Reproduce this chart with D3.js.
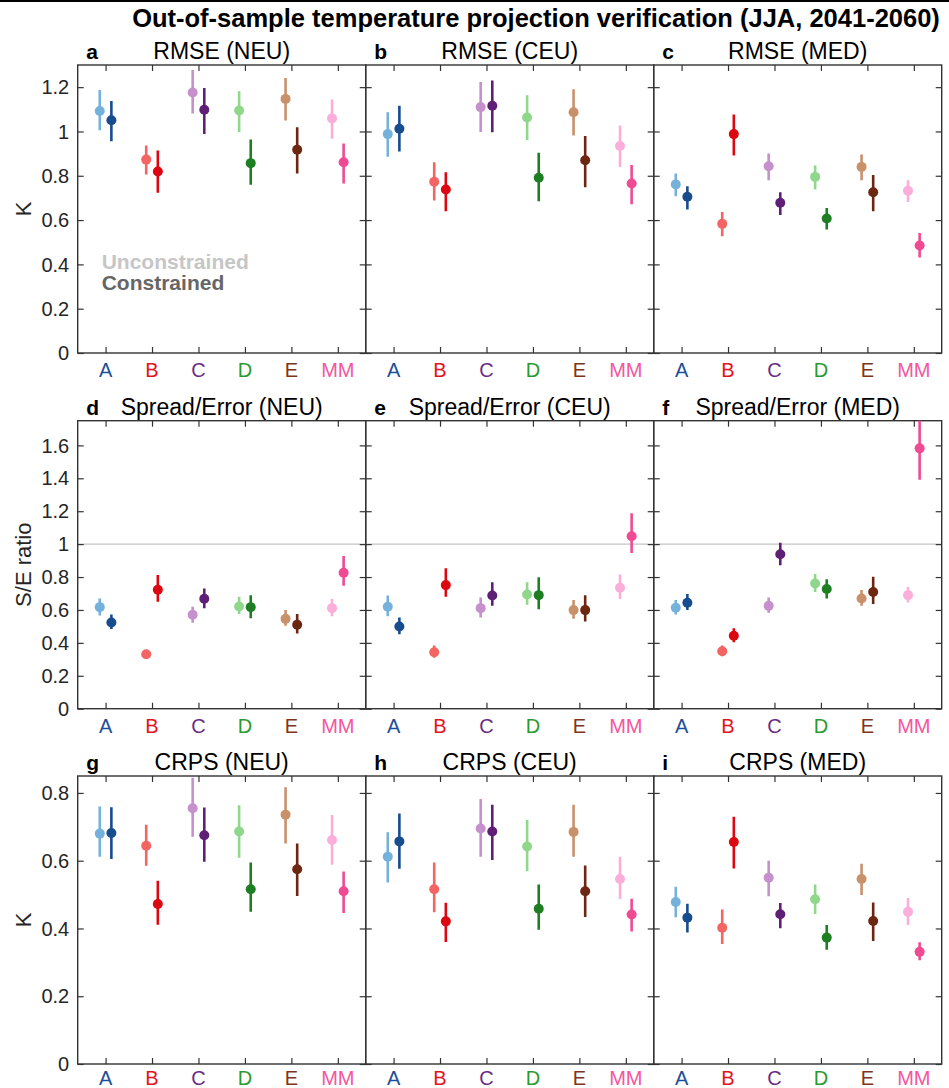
<!DOCTYPE html>
<html>
<head>
<meta charset="utf-8">
<script src="https://cdn.jsdelivr.net/npm/d3@7"></script>
<style>
  body { margin: 0; background: #fff; }
  text { font-family: "Liberation Sans", Arial, Helvetica, sans-serif; }
</style>
</head>
<body>
<script>
// categories & colours
var categories = ['A', 'B', 'C', 'D', 'E', 'MM']
var labelColours = ['#1f4f98', '#e3131b', '#6a2d86', '#2a9a2f', '#7c3518', '#f2579f']
var uncColours = ['#74b2db', '#f26563', '#c590cb', '#8fd78b', '#c99169', '#fcaedb']
var conColours = ['#174c8e', '#dc0710', '#5f1f76', '#1d7f22', '#6d2710', '#ef4a93']

// values: [mid, low, high] per category
var rmseNEU_unc = [[1.092, 1.006, 1.187], [0.873, 0.806, 0.937], [1.176, 1.081, 1.277], [1.095, 0.998, 1.182], [1.147, 1.049, 1.241], [1.059, 0.967, 1.144]]
var rmseNEU_con = [[1.051, 0.956, 1.137], [0.819, 0.723, 0.914], [1.098, 0.989, 1.196], [0.857, 0.759, 0.964], [0.918, 0.810, 1.019], [0.861, 0.765, 0.946]]
var rmseCEU_unc = [[0.988, 0.886, 1.087], [0.773, 0.688, 0.861], [1.110, 0.998, 1.223], [1.063, 0.961, 1.164], [1.087, 0.982, 1.190], [0.934, 0.840, 1.027]]
var rmseCEU_con = [[1.012, 0.910, 1.116], [0.738, 0.640, 0.816], [1.116, 0.997, 1.230], [0.791, 0.685, 0.904], [0.870, 0.748, 0.979], [0.765, 0.672, 0.849]]
var rmseMED_unc = [[0.761, 0.708, 0.810], [0.583, 0.527, 0.636], [0.843, 0.780, 0.901], [0.795, 0.738, 0.846], [0.840, 0.780, 0.896], [0.732, 0.682, 0.780]]
var rmseMED_con = [[0.705, 0.648, 0.753], [0.988, 0.891, 1.077], [0.678, 0.623, 0.726], [0.607, 0.557, 0.654], [0.726, 0.640, 0.804], [0.485, 0.431, 0.542]]

var seNEU_unc = [[0.617, 0.566, 0.670], [0.331, 0.320, 0.342], [0.571, 0.522, 0.619], [0.621, 0.575, 0.680], [0.546, 0.504, 0.599], [0.611, 0.562, 0.668]]
var seNEU_con = [[0.524, 0.485, 0.573], [0.723, 0.650, 0.812], [0.668, 0.611, 0.731], [0.617, 0.550, 0.690], [0.510, 0.457, 0.575], [0.826, 0.747, 0.928]]
var seCEU_unc = [[0.619, 0.562, 0.688], [0.343, 0.309, 0.384], [0.611, 0.554, 0.676], [0.694, 0.631, 0.768], [0.599, 0.546, 0.660], [0.735, 0.666, 0.816]]
var seCEU_con = [[0.499, 0.453, 0.554], [0.751, 0.680, 0.853], [0.688, 0.625, 0.768], [0.690, 0.605, 0.798], [0.599, 0.530, 0.690], [1.048, 0.946, 1.188]]
var seMED_unc = [[0.613, 0.573, 0.660], [0.349, 0.319, 0.384], [0.625, 0.583, 0.676], [0.761, 0.709, 0.818], [0.670, 0.625, 0.721], [0.690, 0.646, 0.739]]
var seMED_con = [[0.644, 0.599, 0.697], [0.443, 0.404, 0.489], [0.938, 0.871, 1.009], [0.727, 0.670, 0.786], [0.709, 0.636, 0.802], [1.582, 1.391, 1.770]]

var crpsNEU_unc = [[0.680, 0.612, 0.760], [0.644, 0.585, 0.706], [0.755, 0.671, 0.845], [0.686, 0.609, 0.764], [0.736, 0.651, 0.817], [0.661, 0.588, 0.735]]
var crpsNEU_con = [[0.682, 0.605, 0.758], [0.472, 0.411, 0.541], [0.675, 0.597, 0.757], [0.516, 0.449, 0.595], [0.575, 0.496, 0.651], [0.510, 0.446, 0.568]]
var crpsCEU_unc = [[0.612, 0.536, 0.684], [0.516, 0.448, 0.595], [0.695, 0.612, 0.782], [0.642, 0.569, 0.720], [0.685, 0.612, 0.765], [0.546, 0.487, 0.612]]
var crpsCEU_con = [[0.657, 0.576, 0.739], [0.421, 0.360, 0.476], [0.686, 0.602, 0.765], [0.458, 0.396, 0.530], [0.510, 0.434, 0.586], [0.441, 0.391, 0.488]]
var crpsMED_unc = [[0.478, 0.433, 0.523], [0.402, 0.354, 0.456], [0.550, 0.495, 0.600], [0.486, 0.443, 0.530], [0.546, 0.499, 0.591], [0.449, 0.410, 0.490]]
var crpsMED_con = [[0.432, 0.388, 0.473], [0.655, 0.577, 0.730], [0.442, 0.401, 0.475], [0.373, 0.337, 0.410], [0.422, 0.363, 0.477], [0.331, 0.306, 0.359]]

// rows: y domain, ticks, label
var rowDomains = [[0, 1.3], [0, 1.75], [0, 0.85]]
var rowTicks = [[0, 0.2, 0.4, 0.6, 0.8, 1, 1.2], [0, 0.2, 0.4, 0.6, 0.8, 1, 1.2, 1.4, 1.6], [0, 0.2, 0.4, 0.6, 0.8]]
var rowLabels = ['K', 'S/E ratio', 'K']
var rowTops = [65, 420.7, 776]

var panels = [
    { id: 'a', title: 'RMSE (NEU)', row: 0, col: 0, unc: rmseNEU_unc, con: rmseNEU_con },
    { id: 'b', title: 'RMSE (CEU)', row: 0, col: 1, unc: rmseCEU_unc, con: rmseCEU_con },
    { id: 'c', title: 'RMSE (MED)', row: 0, col: 2, unc: rmseMED_unc, con: rmseMED_con },
    { id: 'd', title: 'Spread/Error (NEU)', row: 1, col: 0, unc: seNEU_unc, con: seNEU_con },
    { id: 'e', title: 'Spread/Error (CEU)', row: 1, col: 1, unc: seCEU_unc, con: seCEU_con },
    { id: 'f', title: 'Spread/Error (MED)', row: 1, col: 2, unc: seMED_unc, con: seMED_con },
    { id: 'g', title: 'CRPS (NEU)', row: 2, col: 0, unc: crpsNEU_unc, con: crpsNEU_con },
    { id: 'h', title: 'CRPS (CEU)', row: 2, col: 1, unc: crpsCEU_unc, con: crpsCEU_con },
    { id: 'i', title: 'CRPS (MED)', row: 2, col: 2, unc: crpsMED_unc, con: crpsMED_con }
]

var W = 949, H = 1088
var size = 288, left0 = 77.7
var offset = 0.125
var frame = '#333'

var svg = d3.select('body').append('svg')
    .attr('width', W)
    .attr('height', H)

// black strip at the top
svg.append('rect').attr('x', 0).attr('y', 0).attr('width', W).attr('height', 2).attr('fill', '#000')

svg.append('text')
    .attr('x', 536)
    .attr('y', 27)
    .attr('text-anchor', 'middle')
    .attr('font-size', '25.5px')
    .attr('font-weight', 'bold')
    .text('Out-of-sample temperature projection verification (JJA, 2041-2060)')

var x = d3.scaleLinear().domain([0.4, 6.6]).range([0, size])

panels.forEach(function (p) {
    var x0 = left0 + p.col * size
    var y0 = rowTops[p.row]
    var y = d3.scaleLinear().domain(rowDomains[p.row]).range([size, 0])
    var g = svg.append('g').attr('transform', 'translate(' + x0 + ',' + y0 + ')')

    g.append('clipPath').attr('id', 'clip-' + p.id)
        .append('rect').attr('width', size).attr('height', size)

    // reference line
    if (p.row === 1) {
        g.append('line')
            .attr('x1', 0).attr('x2', size)
            .attr('y1', y(1)).attr('y2', y(1))
            .attr('stroke', '#c4c4c4').attr('stroke-width', 1.3)
    }

    // axes (ticks inward on all sides)
    var xi = d3.range(1, categories.length + 1)
    g.append('g').attr('transform', 'translate(0,' + size + ')')
        .call(d3.axisTop(x).tickValues(xi).tickSize(6).tickFormat(''))
    g.append('g')
        .call(d3.axisBottom(x).tickValues(xi).tickSize(6).tickFormat(''))
    g.append('g')
        .call(d3.axisRight(y).tickValues(rowTicks[p.row]).tickSize(6).tickFormat(''))
    g.append('g').attr('transform', 'translate(' + size + ',0)')
        .call(d3.axisLeft(y).tickValues(rowTicks[p.row]).tickSize(6).tickFormat(''))
    g.selectAll('.domain').remove()
    g.selectAll('.tick line').attr('stroke', frame).attr('stroke-width', 1.2)

    g.append('rect')
        .attr('width', size).attr('height', size)
        .attr('fill', 'none').attr('stroke', frame).attr('stroke-width', 1.4)

    // y tick labels on the first column
    if (p.col === 0) {
        g.selectAll('.ylab').data(rowTicks[p.row]).join('text')
            .attr('x', -8.5)
            .attr('y', function (d) { return y(d) })
            .attr('dy', '0.36em')
            .attr('text-anchor', 'end')
            .attr('font-size', '20px')
            .attr('fill', '#262626')
            .text(d3.format('~g'))
        g.append('text')
            .attr('transform', 'translate(' + (-47) + ',' + (size / 2) + ') rotate(-90)')
            .attr('text-anchor', 'middle')
            .attr('font-size', '22px')
            .attr('fill', '#262626')
            .text(rowLabels[p.row])
    }

    // category labels (last row nudged up to stay inside the picture)
    var labY = p.row === 2 ? size + 20.5 : size + 24.4
    g.selectAll('.xlab').data(categories).join('text')
        .attr('x', function (d, i) { return x(i + 1) })
        .attr('y', labY)
        .attr('text-anchor', 'middle')
        .attr('font-size', '20px')
        .attr('fill', function (d, i) { return labelColours[i] })
        .text(function (d) { return d })

    // titles
    g.append('text')
        .attr('x', 8.5)
        .attr('y', -6)
        .attr('font-size', '21px')
        .attr('font-weight', 'bold')
        .text(p.id)
    g.append('text')
        .attr('x', size / 2)
        .attr('y', -6)
        .attr('text-anchor', 'middle')
        .attr('font-size', '23px')
        .text(p.title)

    // error bars and points
    var marks = g.append('g').attr('clip-path', 'url(#clip-' + p.id + ')')
    var series = [
        { data: p.unc, dx: -offset, colours: uncColours },
        { data: p.con, dx: offset, colours: conColours }
    ]
    series.forEach(function (s) {
        marks.selectAll(null).data(s.data).join('line')
            .attr('x1', function (d, i) { return x(i + 1 + s.dx) })
            .attr('x2', function (d, i) { return x(i + 1 + s.dx) })
            .attr('y1', function (d) { return y(d[1]) })
            .attr('y2', function (d) { return y(d[2]) })
            .attr('stroke', function (d, i) { return s.colours[i] })
            .attr('stroke-width', 2.6)
        marks.selectAll(null).data(s.data).join('circle')
            .attr('cx', function (d, i) { return x(i + 1 + s.dx) })
            .attr('cy', function (d) { return y(d[0]) })
            .attr('r', 5)
            .attr('fill', function (d, i) { return s.colours[i] })
    })

    // legend in panel a
    if (p.id === 'a') {
        g.append('text')
            .attr('x', 24).attr('y', 269 - y0)
            .attr('font-size', '21px').attr('font-weight', 'bold')
            .attr('fill', '#c6c6c6')
            .text('Unconstrained')
        g.append('text')
            .attr('x', 24).attr('y', 290 - y0)
            .attr('font-size', '21px').attr('font-weight', 'bold')
            .attr('fill', '#666')
            .text('Constrained')
    }
})
</script>
</body>
</html>
